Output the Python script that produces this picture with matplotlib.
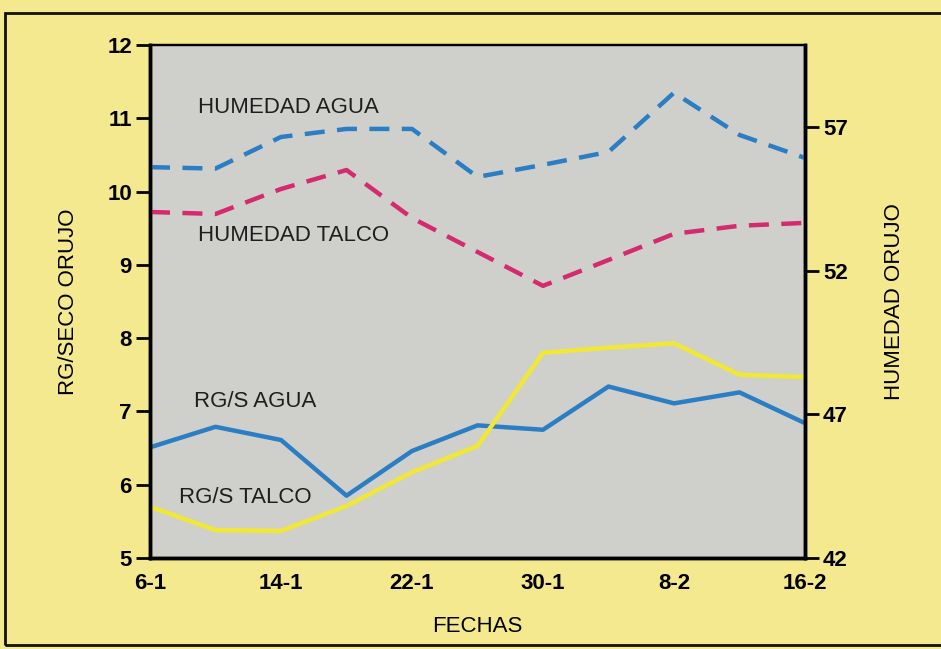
import matplotlib
matplotlib.use("Agg")
import matplotlib.pyplot as plt
from matplotlib.patches import Rectangle

# dias desde 1 de enero
DIAS = [6, 10, 14, 18, 22, 26, 30, 34, 38, 42, 46]
TICK_DIAS = [6, 14, 22, 30, 38, 46]
TICK_LABELS = ["6-1", "14-1", "22-1", "30-1", "8-2", "16-2"]

# eje izquierdo: RG/seco orujo
RGS_AGUA = [6.51, 6.79, 6.61, 5.85, 6.46, 6.81, 6.75, 7.34, 7.11, 7.26, 6.84]
RGS_TALCO = [5.70, 5.38, 5.37, 5.71, 6.17, 6.53, 7.80, 7.87, 7.93, 7.50, 7.47]

# eje derecho: humedad orujo
HUM_AGUA = [55.6, 55.55, 56.65, 56.93, 56.93, 55.26, 55.68, 56.13, 58.19, 56.72, 55.92]
HUM_TALCO = [54.04, 53.97, 54.84, 55.5, 53.83, 52.65, 51.47, 52.37, 53.28, 53.56, 53.66]

BG = "#f4e98f"
GRIS = "#cfd0cc"
AZUL = "#2b7dc4"
MAGENTA = "#d42a6e"
AMARILLO = "#f1e836"

plt.rcParams["font.family"] = ["Liberation Sans", "DejaVu Sans"]

fig = plt.figure(figsize=(9.41, 6.49), dpi=100, facecolor=BG)
ax = fig.add_axes([150 / 941, 1 - 558 / 649, 655 / 941, 513 / 649])
ax.set_facecolor(GRIS)
ax2 = ax.twinx()

ax.plot(DIAS, RGS_AGUA, color=AZUL, lw=3.2)
ax.plot(DIAS, RGS_TALCO, color=AMARILLO, lw=3.2)
ax2.plot(DIAS, HUM_AGUA, color=AZUL, lw=3.2, dashes=(4.5, 2.8))
ax2.plot(DIAS, HUM_TALCO, color=MAGENTA, lw=3.2, dashes=(4.5, 2.8))

ax.set_xlim(6, 46)
ax.set_ylim(5, 12)
ax2.set_ylim(42, 59.85)

ax.set_xticks(TICK_DIAS)
ax.set_xticklabels(TICK_LABELS)
ax.set_yticks(range(5, 13))
ax2.set_yticks([42, 47, 52, 57])

ax.tick_params(axis="x", length=0, pad=11, labelsize=16)
ax.tick_params(axis="y", length=10, width=2, pad=3, labelsize=16)
ax2.tick_params(axis="y", length=10, width=2, pad=3, labelsize=16)
for lab in ax.get_xticklabels() + ax.get_yticklabels() + ax2.get_yticklabels():
    lab.set_fontweight("bold")

for a in (ax, ax2):
    a.spines["left"].set_linewidth(2.5)
    a.spines["bottom"].set_linewidth(2.5)
    a.spines["right"].set_linewidth(2.5)
    a.spines["top"].set_linewidth(1.6)

ax.set_xlabel("FECHAS", fontsize=16, labelpad=16)
ax.set_ylabel("RG/SECO ORUJO", fontsize=16, labelpad=20)
ax2.set_ylabel("HUMEDAD ORUJO", fontsize=16, labelpad=26)

ax.text(8.95, 11.15, "HUMEDAD AGUA", fontsize=16, va="center", color="#1e1e1e")
ax.text(8.95, 9.4, "HUMEDAD TALCO", fontsize=16, va="center", color="#1e1e1e")
ax.text(8.7, 7.13, "RG/S AGUA", fontsize=16, va="center", color="#1e1e1e")
ax.text(7.8, 5.83, "RG/S TALCO", fontsize=16, va="center", color="#1e1e1e")

fig.add_artist(Rectangle((5 / 941, 4 / 649), 940 / 941, 632 / 649,
                         transform=fig.transFigure, fill=False,
                         edgecolor="#111111", lw=2))

fig.savefig("out.png", dpi=100, facecolor=BG)
